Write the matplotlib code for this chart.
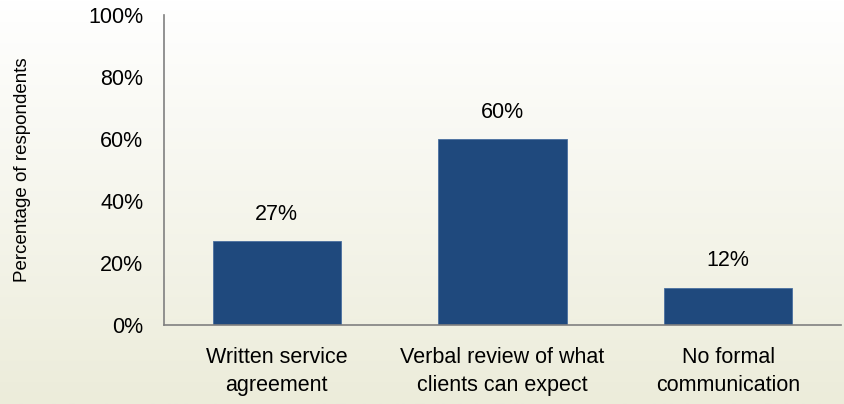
import matplotlib.pyplot as plt
import numpy as np

categories = ['Written service\nagreement', 'Verbal review of what\nclients can expect', 'No formal\ncommunication']
values = [27, 60, 12]
yticks = [0, 20, 40, 60, 80, 100]

plt.rcParams['font.family'] = ['Liberation Sans', 'DejaVu Sans']

fig = plt.figure(figsize=(8.45, 4.04), dpi=100)

# soft vertical gradient behind everything
bg = fig.add_axes([0, 0, 1, 1], zorder=-1)
grad = np.linspace(0, 1, 256).reshape(-1, 1)
top = np.array([1.0, 1.0, 1.0])
bottom = np.array([236, 236, 218]) / 255
img = top + (bottom - top) * grad[..., None]
bg.imshow(img, aspect='auto', extent=[0, 1, 0, 1])
bg.axis('off')

ax = fig.add_axes([164/845, (404-325)/404, (841-164)/845, 310/404])
ax.patch.set_alpha(0)
x = np.arange(len(categories))
ax.bar(x, values, width=0.57, color='#1F497D', edgecolor='#4A6FA0', linewidth=0.6)
for xi, v in zip(x, values):
    ax.text(xi, v + 8.7, f'{v}%', ha='center', va='center', fontsize=15.5)

ax.set_xlim(-0.5, 2.5)
ax.set_ylim(0, 100)
ax.set_yticks(yticks)
ax.set_yticklabels([f'{t}%' for t in yticks], fontsize=15.5)
ax.set_xticks(x)
ax.set_xticklabels(categories, fontsize=15.5, linespacing=1.45)
ax.tick_params(length=0)
ax.tick_params(axis='y', pad=15)
ax.tick_params(axis='x', pad=16)
for s in ['top', 'right']:
    ax.spines[s].set_visible(False)
for s in ['left', 'bottom']:
    ax.spines[s].set_color('#808080')
    ax.spines[s].set_linewidth(1.2)
ax.set_ylabel('Percentage of respondents', fontsize=13.5)
ax.yaxis.set_label_coords(-0.197, 0.5)

fig.savefig('out.png', dpi=100)
